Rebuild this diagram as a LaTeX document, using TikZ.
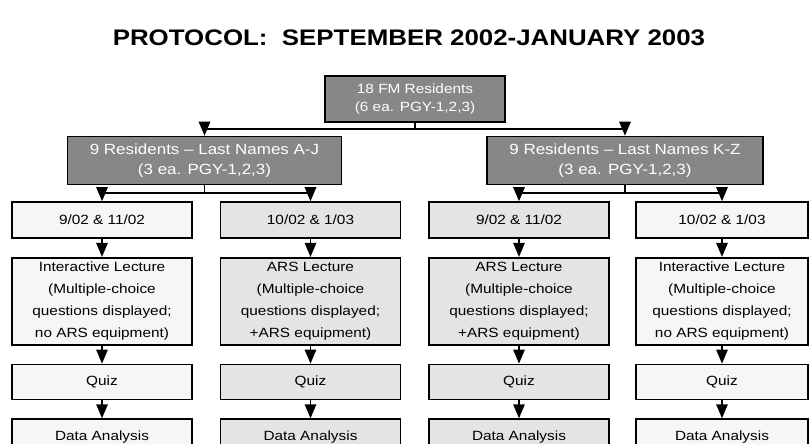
\documentclass[tikz,border=0pt]{standalone}
\usepackage{fontspec}
\setmainfont{Liberation Sans}[FakeStretch=1.15]
\usepackage{tikz}
\definecolor{darkbox}{HTML}{878787}
\definecolor{grayfill}{HTML}{E4E4E4}
\definecolor{palefill}{HTML}{F6F6F6}
\tikzstyle{block}=[draw, line width=1.2pt, minimum width=4.5cm, minimum height=0.9cm, align=center, inner sep=0pt, font=\fontsize{9.5}{15.5}\selectfont]
\tikzstyle{group}=[block, fill=darkbox, text=white, font=\fontsize{10.5}{14}\selectfont]
\tikzstyle{pale}=[block, fill=palefill]
\tikzstyle{grey}=[block, fill=grayfill]
\tikzstyle{arrow}=[line width=1.3pt,->,>=triangle 45]
\tikzstyle{line}=[line width=1.3pt]
\usetikzlibrary{arrows,positioning,calc}

\begin{document}
\begin{tikzpicture}[x=0.025cm,y=-0.025cm,node distance=0.45cm]
\useasboundingbox (0,0) rectangle (810,444);
\node (title) at (409,38) {\fontsize{16}{19}\selectfont\bfseries PROTOCOL:\ \ SEPTEMBER 2002-JANUARY 2003};
\node (all) [group, minimum height=1.15cm, font=\fontsize{9.5}{13}\selectfont] at (415,99) {18 FM Residents\\(6 ea. PGY-1,2,3)};
\node (aj) [group, minimum width=6.85cm, minimum height=1.2cm] at (204.5,160.5) {9 Residents -- Last Names A-J\\(3 ea. PGY-1,2,3)};
\node (kz) [group, minimum width=6.9cm, minimum height=1.2cm] at (625,160.5) {9 Residents -- Last Names K-Z\\(3 ea. PGY-1,2,3)};

% dates
\node (d1) [pale] at (102,220) {9/02 \& 11/02};
\node (d2) [grey] at (310.5,220) {10/02 \& 1/03};
\node (d3) [grey] at (519,220) {9/02 \& 11/02};
\node (d4) [pale, minimum width=4.3cm] at (722,220) {10/02 \& 1/03};

% lectures
\node (l1) [pale, below=of d1, minimum height=2.175cm] {Interactive Lecture\\(Multiple-choice\\questions displayed;\\no ARS equipment)};
\node (l2) [grey, below=of d2, minimum height=2.175cm] {ARS Lecture\\(Multiple-choice\\questions displayed;\\+ARS equipment)};
\node (l3) [grey, below=of d3, minimum height=2.175cm] {ARS Lecture\\(Multiple-choice\\questions displayed;\\+ARS equipment)};
\node (l4) [pale, below=of d4, minimum width=4.3cm, minimum height=2.175cm] {Interactive Lecture\\(Multiple-choice\\questions displayed;\\no ARS equipment)};

\node (q1) [pale, below=of l1, minimum height=0.875cm] {Quiz};
\node (q2) [grey, below=of l2, minimum height=0.875cm] {Quiz};
\node (q3) [grey, below=of l3, minimum height=0.875cm] {Quiz};
\node (q4) [pale, below=of l4, minimum width=4.3cm, minimum height=0.875cm] {Quiz};

\node (a1) [pale, below=of q1, minimum height=0.875cm] {Data Analysis};
\node (a2) [grey, below=of q2, minimum height=0.875cm] {Data Analysis};
\node (a3) [grey, below=of q3, minimum height=0.875cm] {Data Analysis};
\node (a4) [pale, below=of q4, minimum width=4.3cm, minimum height=0.875cm] {Data Analysis};

\coordinate (bus) at (415,129);
\coordinate (busaj) at (204.5,193);
\coordinate (buskz) at (625,193);

\draw[line] (all) -- (bus);
\draw[arrow] (bus) -| (aj);
\draw[arrow] (bus) -| (kz);

\draw[line] (aj) -- (busaj);
\draw[arrow] (busaj) -| (d1);
\draw[arrow] (busaj) -| (d2);
\draw[line] (kz) -- (buskz);
\draw[arrow] (buskz) -| (d3);
\draw[arrow] (buskz) -| (d4);

\draw[arrow] (d1) -- (l1);
\draw[arrow] (l1) -- (q1);
\draw[arrow] (q1) -- (a1);
\draw[arrow] (d2) -- (l2);
\draw[arrow] (l2) -- (q2);
\draw[arrow] (q2) -- (a2);
\draw[arrow] (d3) -- (l3);
\draw[arrow] (l3) -- (q3);
\draw[arrow] (q3) -- (a3);
\draw[arrow] (d4) -- (l4);
\draw[arrow] (l4) -- (q4);
\draw[arrow] (q4) -- (a4);
\end{tikzpicture}
\end{document}
